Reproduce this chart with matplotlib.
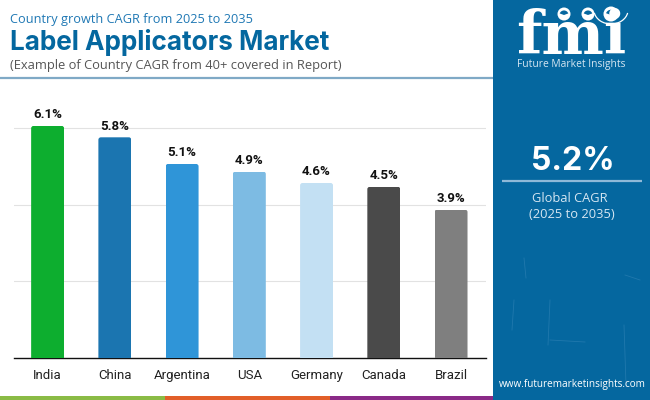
import matplotlib
matplotlib.use("Agg")
import matplotlib.pyplot as plt
from matplotlib.patches import Rectangle, Circle, Wedge, Arc, FancyBboxPatch
from matplotlib.transforms import IdentityTransform

categories = ["India", "China", "Argentina", "USA", "Germany", "Canada", "Brazil"]
values = [6.1, 5.8, 5.1, 4.9, 4.6, 4.5, 3.9]
bar_colors = ["#0DAE2F", "#1B75B0", "#2F95D8", "#7DBBE3", "#C3E0F3", "#4A4A4A", "#7F7F7F"]
y_ticks = [2.02, 4.03, 6.05]

W, H = 650, 400
fig = plt.figure(figsize=(6.5, 4), dpi=100, facecolor="white")
bg = fig.add_axes([0, 0, 1, 1])
bg.set_xlim(0, W)
bg.set_ylim(H, 0)
bg.axis("off")

TITLE = "Inter"
BODY = "Open Sans"
BLUE = "#04679F"

# panels and strips
bg.add_patch(Rectangle((493, 0), 157, 400, color="#05679F", lw=0))
for x0, x1, c in [(0, 165, "#8ABB45"), (165, 330, "#E25F29"), (330, 493, "#8A2A87")]:
    bg.add_patch(Rectangle((x0, 395.5), x1 - x0, 4.5, color=c, lw=0))
bg.plot([0, 493], [77.5, 77.5], color="#7FA9C6", lw=1.6, solid_capstyle="butt")

# header
bg.text(10, 19, "Country growth CAGR from 2025 to 2035", family=BODY, fontsize=9.2, color="#1F78B4", va="center")
bg.text(10, 43, "Label Applicators Market", family=TITLE, fontsize=18.8, weight="bold", color=BLUE, va="center")
bg.text(10, 65, "(Example of Country CAGR from 40+ covered in Report)", family=BODY, fontsize=9.27, color="#555555", va="center")

# right panel text
bg.text(572.5, 161, "5.2%", family=TITLE, fontsize=23, weight="bold", color="white", ha="center", va="center")
bg.plot([502, 642], [181, 181], color="#8FB9D8", lw=1.6, solid_capstyle="butt")
bg.text(570, 198, "Global CAGR", family=BODY, fontsize=9.3, color="#D5E6F2", ha="center", va="center")
bg.text(572, 215, "(2025 to 2035)", family=BODY, fontsize=9.3, color="#D5E6F2", ha="center", va="center")
bg.text(572, 384, "www.futuremarketinsights.com", family=BODY, fontsize=7.2, color="white", ha="center", va="center")

# faint scratches on panel
for seg in [((524, 258), (526, 278)), ((625, 275), (640, 280)), ((550, 340), (585, 342)),
            ((624, 325), (626, 385)), ((550, 300), (548, 345)), ((512, 330), (514, 300))]:
    bg.plot(*zip(*seg), color="#2C80B3", lw=0.6, alpha=0.7)

# logo
bg.text(571, 37, "fmi", family="DejaVu Serif", weight="bold", fontsize=42.5, color="white", ha="center", va="center")
for y in range(22, 56, 4):
    bg.add_patch(Rectangle((515, y), 112, 1.2, color="#05679F", lw=0))
for cx, cy, r in [(564, 14, 6.5), (588, 14, 6.5), (611, 14, 7.5)]:
    bg.add_patch(Circle((cx, cy), r + 2, color="#05679F", lw=0))
    bg.add_patch(Circle((cx, cy), r, color="white", lw=0))
    bg.add_patch(Wedge((cx, cy + 1), r * 0.7, 200, 340, color="#05679F", lw=0))
bg.add_patch(Arc((611, 10), 34, 28, theta1=10, theta2=170, color="white", lw=0.9))
bg.text(571, 65, "Future Market Insights", family=BODY, fontsize=7.4, color="#D5E6F2", ha="center", va="center")

# chart
ax = fig.add_axes([14 / W, 1 - 358 / H, 472 / W, 256 / H])
ax.patch.set_alpha(0)
bars = ax.bar(categories, values, width=0.49, color=bar_colors, zorder=3)
ax.set_xlim(-0.5, 6.52)
ax.set_ylim(0, 6.728)
ax.set_yticks(y_ticks)
ax.tick_params(axis="y", length=0, labelleft=False)
ax.tick_params(axis="x", length=0, pad=15, labelsize=9.5, labelcolor="#222222")
for t in ax.get_xticklabels():
    t.set_family("Roboto")
    t.set_verticalalignment("baseline")
ax.grid(axis="y", color="#E2E2E2", lw=0.8, zorder=0)
for s in ["top", "left", "right"]:
    ax.spines[s].set_visible(False)
ax.spines["bottom"].set_color("#111111")
ax.spines["bottom"].set_linewidth(1.0)
for i, v in enumerate(values):
    ax.annotate(f"{v}%", (i, v), xytext=(0, 3.3), textcoords="offset points", ha="center", va="bottom",
                family="Roboto", weight="bold", fontsize=9.5, color="#111111", zorder=4)

# slightly rounded bar tops, clipped in pixel space
fig.canvas.draw()
for b in bars:
    e = b.get_window_extent()
    clip = FancyBboxPatch((e.x0, e.y0 - 6), e.width, e.height + 6,
                          boxstyle="round,pad=0,rounding_size=2.5", transform=IdentityTransform())
    b.set_clip_path(clip)

fig.savefig("out.png", dpi=100)
